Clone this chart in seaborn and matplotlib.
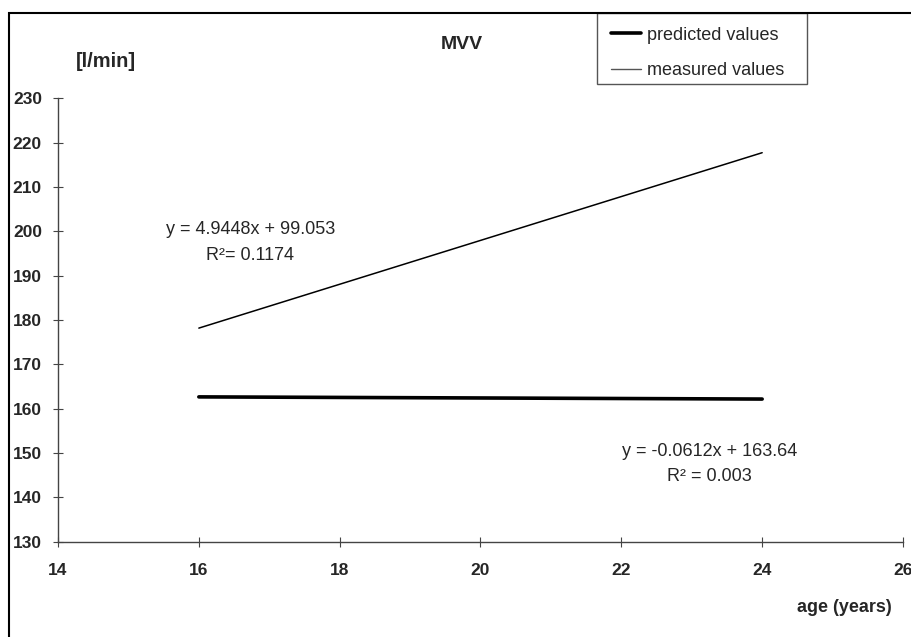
import matplotlib
matplotlib.use("Agg")
import matplotlib.pyplot as plt
import matplotlib.patches as mpatches
import seaborn as sns
import pandas as pd

# ---- data ----
age = [16, 24]
predicted = [162.66, 162.17]
measured = [178.17, 217.73]
series_names = ["predicted values", "measured values"]
x_ticks = [14, 16, 18, 20, 22, 24, 26]
y_ticks = [130, 140, 150, 160, 170, 180, 190, 200, 210, 220, 230]
eq_measured = ["y = 4.9448x + 99.053", "R\u00b2= 0.1174"]
eq_predicted = ["y = -0.0612x + 163.64", "R\u00b2 = 0.003"]

sns.set_style("ticks")
plt.rcParams['font.family'] = ['Liberation Sans', 'DejaVu Sans']

W, H = 911, 637
fig = plt.figure(figsize=(W / 100, H / 100), dpi=100)
ax = fig.add_axes([58 / W, 1 - 541.7 / H, (903 - 58) / W, (541.7 - 98.3) / H])

df_pred = pd.DataFrame({"age": age, "value": predicted})
df_meas = pd.DataFrame({"age": age, "value": measured})
sns.lineplot(data=df_pred, x="age", y="value", ax=ax, color="black", linewidth=2.6,
             label=series_names[0])
sns.lineplot(data=df_meas, x="age", y="value", ax=ax, color="black", linewidth=1.1,
             label=series_names[1])

ax.set_xlim(14, 26)
ax.set_ylim(130, 230)
ax.set_xticks(x_ticks)
ax.set_yticks(y_ticks)
ax.set_xlabel("")
ax.set_ylabel("")
for s in ["top", "right"]:
    ax.spines[s].set_visible(False)
for s in ["left", "bottom"]:
    ax.spines[s].set_color("#444444")
    ax.spines[s].set_linewidth(1.0)
ax.tick_params(axis="both", direction="inout", length=7.2, width=0.8, color="#444444",
               labelsize=12.5)
ax.tick_params(axis="y", pad=8)
ax.tick_params(axis="x", pad=12)
for lab in ax.get_xticklabels() + ax.get_yticklabels():
    lab.set_fontweight("bold")

# legend (entries) + box
leg = ax.legend(loc="upper left", bbox_to_anchor=(597 / W, 1 - 13 / H, 210 / W, 0.0),
                bbox_transform=fig.transFigure, mode="expand", fontsize=13,
                frameon=False, borderpad=0.75, labelspacing=1.02, handlelength=1.7,
                handletextpad=0.3, borderaxespad=0)
hl = leg.get_lines()
hl[0].set_linewidth(2.6)
hl[1].set_linewidth(1.0)
hl[1].set_color("#555555")
legbox = mpatches.Rectangle((597 / W, 1 - 84 / H), 210 / W, 71 / H, transform=fig.transFigure,
                            fill=False, edgecolor="#555555", linewidth=1.0)
fig.patches.append(legbox)

# texts
fig.text(461.5 / W, 1 - 44.3 / H, "MVV", ha="center", va="center", fontsize=14,
         fontweight="bold")
fig.text(76 / W, 1 - 61.7 / H, "[l/min]", ha="left", va="center", fontsize=14.5,
         fontweight="bold")
fig.text(844 / W, 1 - 608 / H, "age (years)", ha="center", va="center", fontsize=13,
         fontweight="bold")

fig.text(251 / W, 1 - 230 / H, eq_measured[0], ha="center", va="center", fontsize=13)
fig.text(250.5 / W, 1 - 256 / H, eq_measured[1], ha="center", va="center", fontsize=13)
fig.text(710 / W, 1 - 451.7 / H, eq_predicted[0], ha="center", va="center", fontsize=13)
fig.text(709.7 / W, 1 - 476.7 / H, eq_predicted[1], ha="center", va="center", fontsize=13)

# outer frame (clipped at right and bottom)
frame = mpatches.Rectangle((9 / W, -0.2), 1.2, (1 - 13 / H) + 0.2, transform=fig.transFigure,
                           fill=False, edgecolor="black", linewidth=1.5, clip_on=False)
fig.patches.append(frame)

fig.savefig("out.png", dpi=100)
